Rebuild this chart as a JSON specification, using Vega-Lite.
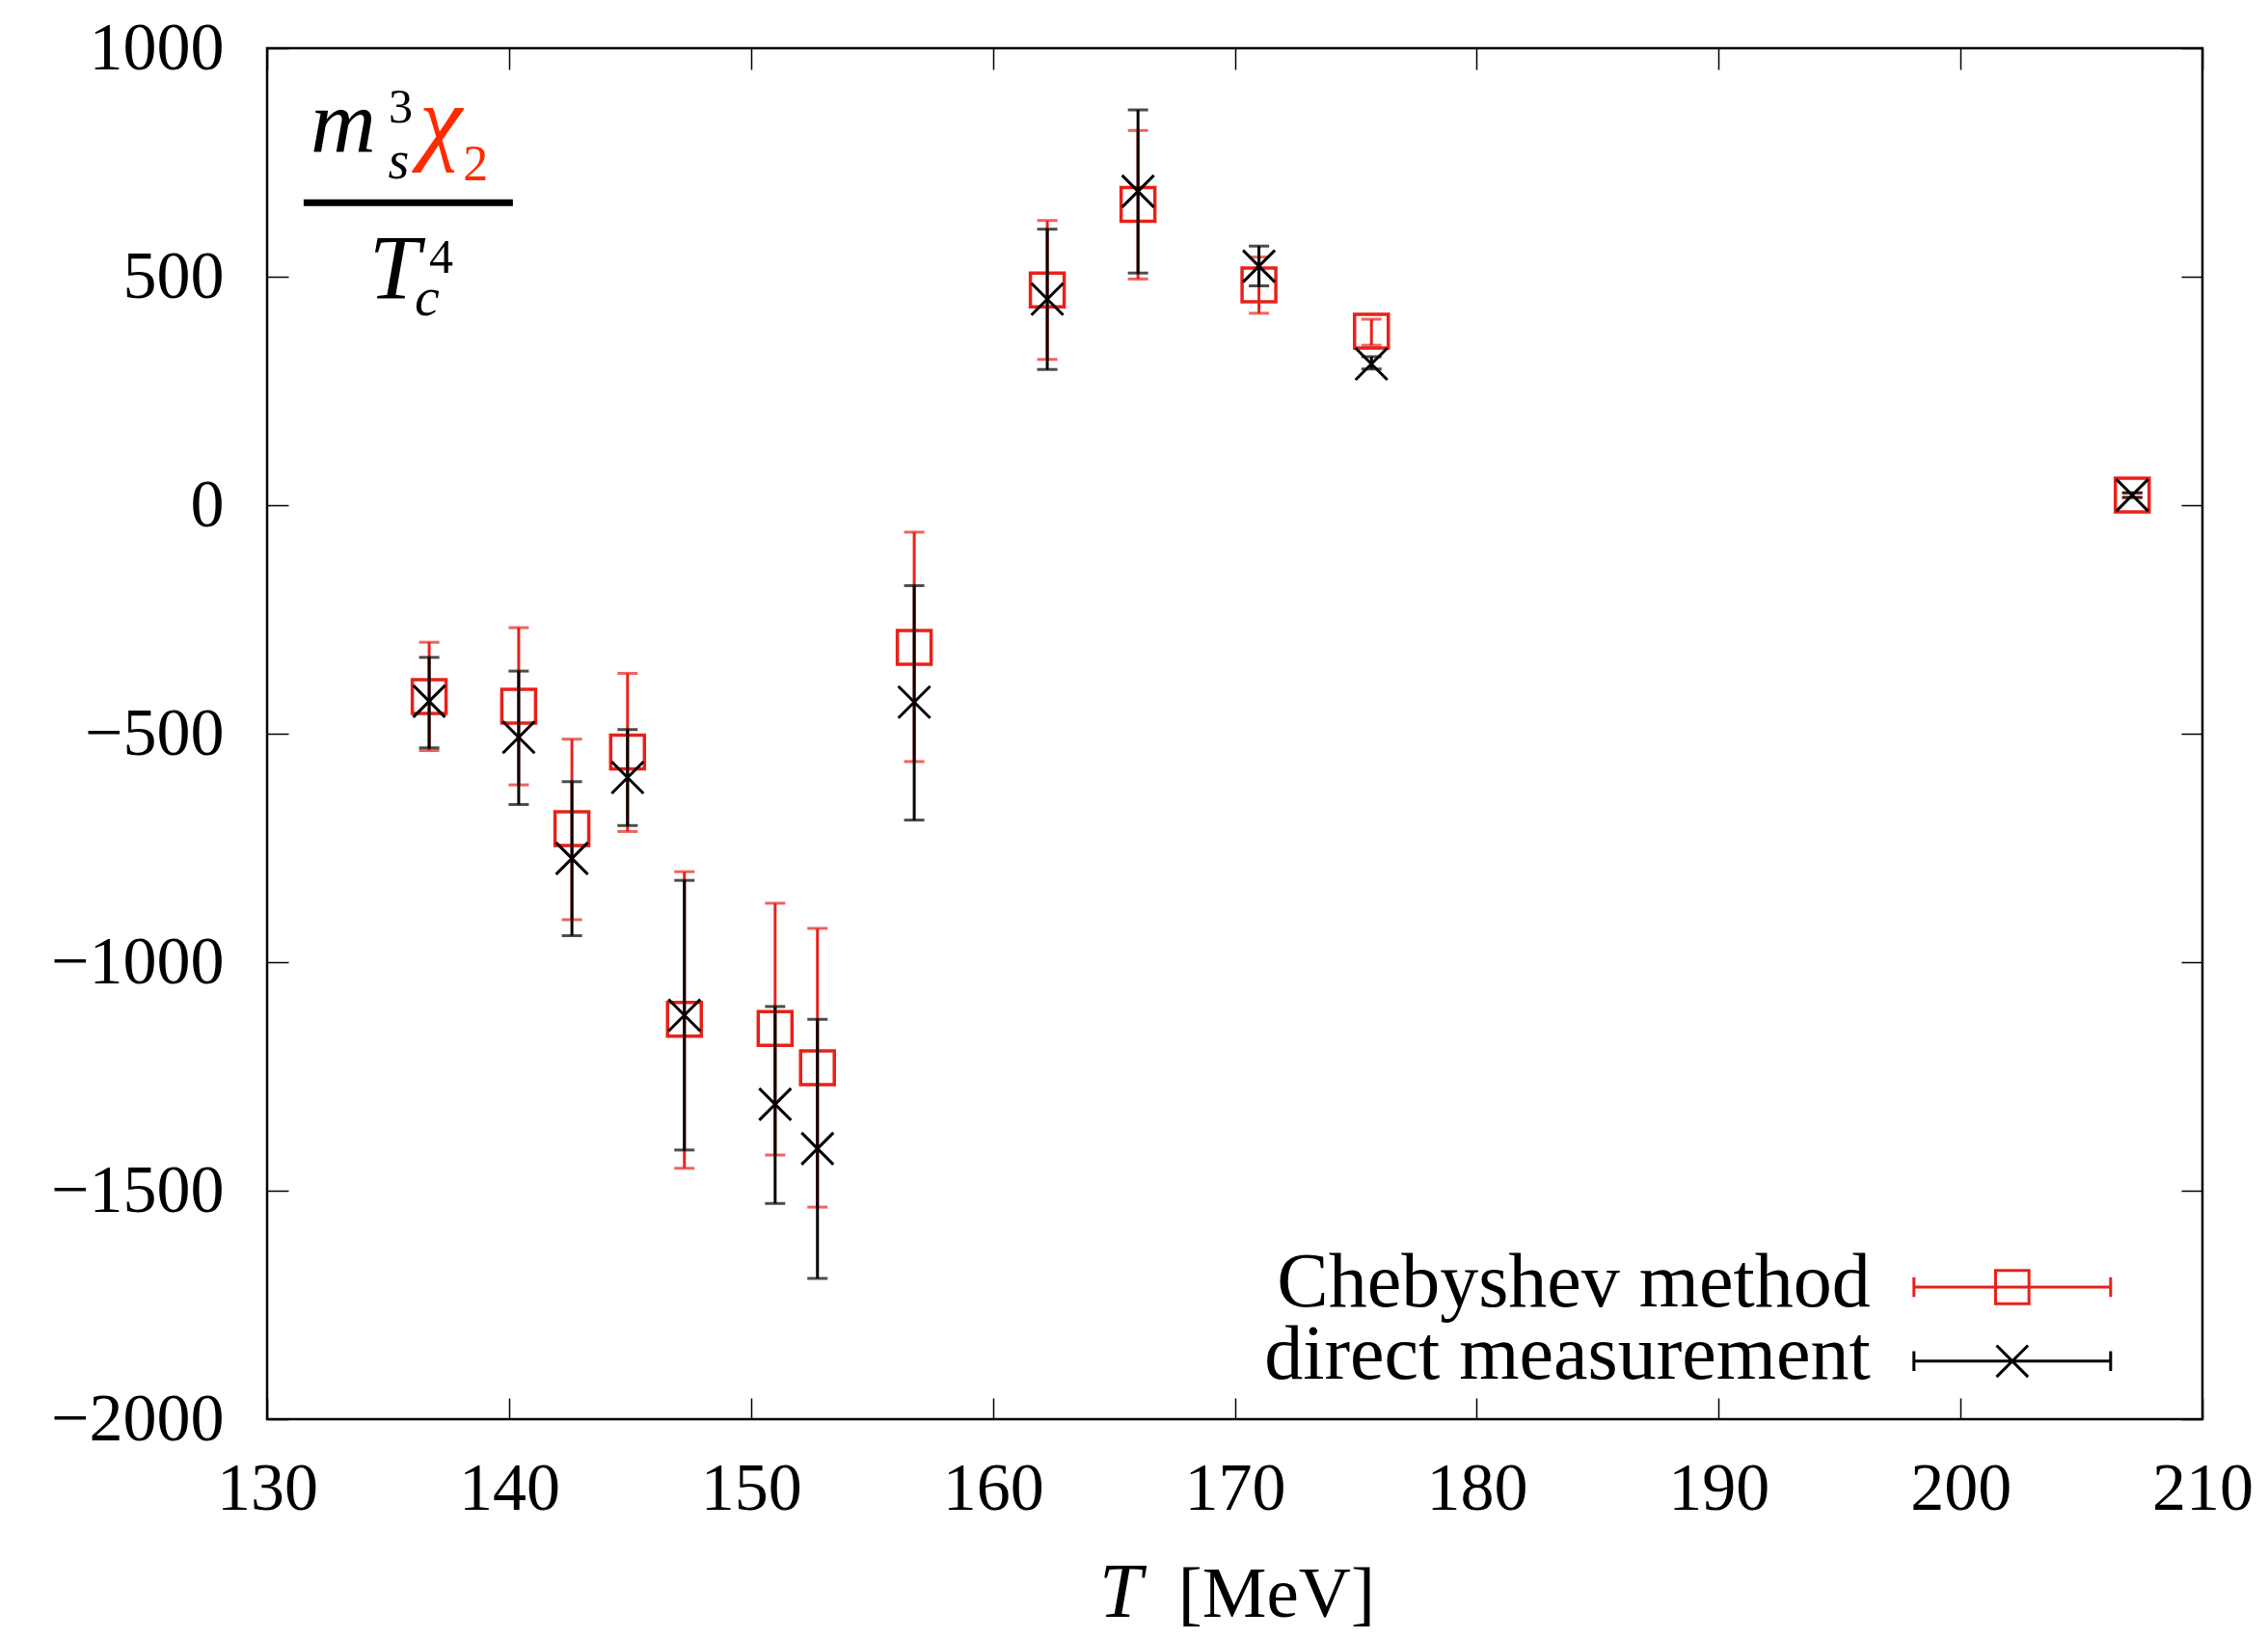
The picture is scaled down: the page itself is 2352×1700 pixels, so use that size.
{
  "$schema": "https://vega.github.io/schema/vega-lite/v6.json",
  "width": 2007,
  "height": 1422,
  "autosize": {"type": "none"},
  "padding": {"left": 277, "top": 50, "right": 68, "bottom": 228},
  "background": "white",
  "config": {
    "view": {"stroke": "black", "strokeWidth": 2.5},
    "axis": {
      "domain": false,
      "grid": false,
      "ticks": true,
      "tickSize": -22,
      "tickColor": "black",
      "tickWidth": 1.5,
      "labelFont": "Liberation Serif",
      "labelFontSize": 70,
      "labelColor": "black",
      "labelLimit": 400,
      "format": "d",
      "title": null
    }
  },
  "datasets": {
    "pts": [
      {"T": 136.7, "s": "cheb", "v": -419, "lo": -537, "hi": -300},
      {"T": 140.4, "s": "cheb", "v": -440, "lo": -612, "hi": -268},
      {"T": 142.6, "s": "cheb", "v": -708, "lo": -907, "hi": -512},
      {"T": 144.9, "s": "cheb", "v": -540, "lo": -714, "hi": -368},
      {"T": 147.25, "s": "cheb", "v": -1125, "lo": -1451, "hi": -802},
      {"T": 151.0, "s": "cheb", "v": -1145, "lo": -1422, "hi": -871},
      {"T": 152.75, "s": "cheb", "v": -1231, "lo": -1536, "hi": -926},
      {"T": 156.75, "s": "cheb", "v": -311, "lo": -561, "hi": -59},
      {"T": 162.25, "s": "cheb", "v": 471, "lo": 319, "hi": 623},
      {"T": 166.0, "s": "cheb", "v": 658, "lo": 495, "hi": 820},
      {"T": 171.0, "s": "cheb", "v": 482, "lo": 420, "hi": 543},
      {"T": 175.65, "s": "cheb", "v": 381, "lo": 350, "hi": 407},
      {"T": 207.1, "s": "cheb", "v": 22, "lo": 17, "hi": 27},
      {"T": 136.7, "s": "direct", "v": -429, "lo": -531, "hi": -333},
      {"T": 140.4, "s": "direct", "v": -508, "lo": -655, "hi": -363},
      {"T": 142.6, "s": "direct", "v": -773, "lo": -942, "hi": -605},
      {"T": 144.9, "s": "direct", "v": -596, "lo": -701, "hi": -491},
      {"T": 147.25, "s": "direct", "v": -1116, "lo": -1411, "hi": -821},
      {"T": 151.0, "s": "direct", "v": -1311, "lo": -1528, "hi": -1097},
      {"T": 152.75, "s": "direct", "v": -1408, "lo": -1692, "hi": -1125},
      {"T": 156.75, "s": "direct", "v": -431, "lo": -689, "hi": -176},
      {"T": 162.25, "s": "direct", "v": 451, "lo": 297, "hi": 604},
      {"T": 166.0, "s": "direct", "v": 687, "lo": 508, "hi": 865},
      {"T": 171.0, "s": "direct", "v": 523, "lo": 480, "hi": 567},
      {"T": 175.65, "s": "direct", "v": 309, "lo": 298, "hi": 325},
      {"T": 207.1, "s": "direct", "v": 22, "lo": 17, "hi": 27}
    ]
  },
  "layer": [
    {
      "data": {"name": "pts"},
      "transform": [{"filter": "datum.s == 'cheb'"}],
      "mark": {"type": "rule", "color": "#e8211a", "strokeWidth": 3},
      "encoding": {
        "x": {"field": "T", "type": "quantitative",
              "scale": {"domain": [130, 210], "nice": false, "zero": false},
              "axis": {"orient": "bottom", "values": [130, 140, 150, 160, 170, 180, 190, 200, 210], "labelPadding": 60, "labelFlush": false}},
        "y": {"field": "lo", "type": "quantitative",
              "scale": {"domain": [-2000, 1000], "nice": false, "zero": false},
              "axis": {"orient": "left", "values": [-2000, -1500, -1000, -500, 0, 500, 1000], "labelPadding": 67, "labelFlush": false}},
        "y2": {"field": "hi"}
      }
    },
    {
      "data": {"name": "pts"},
      "transform": [{"filter": "datum.s == 'cheb'"}],
      "mark": {"type": "tick", "orient": "horizontal", "color": "#e8211a", "size": 21, "thickness": 3},
      "encoding": {
        "x": {"field": "T", "type": "quantitative", "axis": null},
        "y": {"field": "lo", "type": "quantitative", "axis": null}
      }
    },
    {
      "data": {"name": "pts"},
      "transform": [{"filter": "datum.s == 'cheb'"}],
      "mark": {"type": "tick", "orient": "horizontal", "color": "#e8211a", "size": 21, "thickness": 3},
      "encoding": {
        "x": {"field": "T", "type": "quantitative", "axis": null},
        "y": {"field": "hi", "type": "quantitative", "axis": null}
      }
    },
    {
      "data": {"name": "pts"},
      "transform": [{"filter": "datum.s == 'cheb'"}],
      "mark": {"type": "point", "shape": "square", "filled": false, "color": "#e8211a", "strokeWidth": 3.5, "size": 1225, "opacity": 1},
      "encoding": {
        "x": {"field": "T", "type": "quantitative", "axis": null},
        "y": {"field": "v", "type": "quantitative", "axis": null}
      }
    },
    {
      "data": {"name": "pts"},
      "transform": [{"filter": "datum.s == 'direct'"}],
      "mark": {"type": "rule", "color": "black", "strokeWidth": 3},
      "encoding": {
        "x": {"field": "T", "type": "quantitative",
              "axis": {"orient": "top", "values": [130, 140, 150, 160, 170, 180, 190, 200, 210], "labels": false}},
        "y": {"field": "lo", "type": "quantitative",
              "axis": {"orient": "right", "values": [-2000, -1500, -1000, -500, 0, 500, 1000], "labels": false}},
        "y2": {"field": "hi"}
      }
    },
    {
      "data": {"name": "pts"},
      "transform": [{"filter": "datum.s == 'direct'"}],
      "mark": {"type": "tick", "orient": "horizontal", "color": "black", "size": 21, "thickness": 3},
      "encoding": {
        "x": {"field": "T", "type": "quantitative", "axis": null},
        "y": {"field": "lo", "type": "quantitative", "axis": null}
      }
    },
    {
      "data": {"name": "pts"},
      "transform": [{"filter": "datum.s == 'direct'"}],
      "mark": {"type": "tick", "orient": "horizontal", "color": "black", "size": 21, "thickness": 3},
      "encoding": {
        "x": {"field": "T", "type": "quantitative", "axis": null},
        "y": {"field": "hi", "type": "quantitative", "axis": null}
      }
    },
    {
      "data": {"name": "pts"},
      "transform": [{"filter": "datum.s == 'direct'"}],
      "mark": {"type": "point", "shape": "M-1,-1L1,1M-1,1L1,-1", "filled": false, "color": "black", "strokeWidth": 3, "size": 1089, "opacity": 1},
      "encoding": {
        "x": {"field": "T", "type": "quantitative", "axis": null},
        "y": {"field": "v", "type": "quantitative", "axis": null}
      }
    },
    {
      "data": {"values": [{"label": "Chebyshev method"}]},
      "mark": {"type": "text", "align": "right", "baseline": "alphabetic", "font": "Liberation Serif", "fontSize": 80, "color": "black"},
      "encoding": {
        "x": {"datum": 196.28, "type": "quantitative", "axis": null},
        "y": {"datum": -1753, "type": "quantitative", "axis": null},
        "text": {"field": "label"}
      }
    },
    {
      "data": {"values": [{"label": "direct measurement"}]},
      "mark": {"type": "text", "align": "right", "baseline": "alphabetic", "font": "Liberation Serif", "fontSize": 80, "color": "black"},
      "encoding": {
        "x": {"datum": 196.28, "type": "quantitative", "axis": null},
        "y": {"datum": -1911, "type": "quantitative", "axis": null},
        "text": {"field": "label"}
      }
    },
    {
      "data": {"values": [{"label": "Chebyshev method"}]},
      "mark": {"type": "point", "shape": "M-1,-0.1L-1,0.1M-1,0L1,0M1,-0.1L1,0.1M-0.17,-0.17H0.17V0.17H-0.17Z", "filled": false, "color": "#e8211a", "strokeWidth": 3, "size": 41616, "opacity": 1},
      "encoding": {
        "x": {"datum": 202.14, "type": "quantitative", "axis": null},
        "y": {"datum": -1711, "type": "quantitative", "axis": null}
      }
    },
    {
      "data": {"values": [{"label": "direct measurement"}]},
      "mark": {"type": "point", "shape": "M-1,-0.1L-1,0.1M-1,0L1,0M1,-0.1L1,0.1M-0.16,-0.16L0.16,0.16M-0.16,0.16L0.16,-0.16", "filled": false, "color": "black", "strokeWidth": 3, "size": 41616, "opacity": 1},
      "encoding": {
        "x": {"datum": 202.14, "type": "quantitative", "axis": null},
        "y": {"datum": -1873, "type": "quantitative", "axis": null}
      }
    },
    {
      "data": {"values": [{"label": "T"}]},
      "mark": {"type": "text", "align": "left", "baseline": "alphabetic", "font": "Liberation Serif", "fontStyle": "italic", "fontSize": 80, "color": "black"},
      "encoding": {
        "x": {"datum": 164.4, "type": "quantitative", "axis": null},
        "y": {"datum": -2432, "type": "quantitative", "axis": null},
        "text": {"field": "label"}
      }
    },
    {
      "data": {"values": [{"label": "[MeV]"}]},
      "mark": {"type": "text", "align": "left", "baseline": "alphabetic", "font": "Liberation Serif", "fontSize": 75, "color": "black"},
      "encoding": {
        "x": {"datum": 167.66, "type": "quantitative", "axis": null},
        "y": {"datum": -2432, "type": "quantitative", "axis": null},
        "text": {"field": "label"}
      }
    },
    {
      "data": {"values": [{"label": "m"}]},
      "mark": {"type": "text", "align": "left", "baseline": "alphabetic", "font": "Liberation Serif", "fontStyle": "italic", "fontSize": 94, "color": "black"},
      "encoding": {
        "x": {"datum": 131.79, "type": "quantitative", "axis": null},
        "y": {"datum": 772, "type": "quantitative", "axis": null},
        "text": {"field": "label"}
      }
    },
    {
      "data": {"values": [{"label": "3"}]},
      "mark": {"type": "text", "align": "left", "baseline": "alphabetic", "font": "Liberation Serif", "fontSize": 50, "color": "black"},
      "encoding": {
        "x": {"datum": 135.02, "type": "quantitative", "axis": null},
        "y": {"datum": 838, "type": "quantitative", "axis": null},
        "text": {"field": "label"}
      }
    },
    {
      "data": {"values": [{"label": "s"}]},
      "mark": {"type": "text", "align": "left", "baseline": "alphabetic", "font": "Liberation Serif", "fontStyle": "italic", "fontSize": 56, "color": "black"},
      "encoding": {
        "x": {"datum": 135.0, "type": "quantitative", "axis": null},
        "y": {"datum": 715, "type": "quantitative", "axis": null},
        "text": {"field": "label"}
      }
    },
    {
      "data": {"values": [{"label": "χ"}]},
      "mark": {"type": "text", "align": "left", "baseline": "alphabetic", "font": "Liberation Serif", "fontStyle": "italic", "fontSize": 100, "color": "#ff2a00"},
      "encoding": {
        "x": {"datum": 136.3, "type": "quantitative", "axis": null},
        "y": {"datum": 772, "type": "quantitative", "axis": null},
        "text": {"field": "label"}
      }
    },
    {
      "data": {"values": [{"label": "2"}]},
      "mark": {"type": "text", "align": "left", "baseline": "alphabetic", "font": "Liberation Serif", "fontSize": 52, "color": "#ff2a00"},
      "encoding": {
        "x": {"datum": 138.1, "type": "quantitative", "axis": null},
        "y": {"datum": 711, "type": "quantitative", "axis": null},
        "text": {"field": "label"}
      }
    },
    {
      "data": {"values": [{"label": "bar"}]},
      "mark": {"type": "rule", "color": "black", "strokeWidth": 7},
      "encoding": {
        "x": {"datum": 131.51, "type": "quantitative", "axis": null},
        "x2": {"datum": 140.16},
        "y": {"datum": 662, "type": "quantitative", "axis": null}
      }
    },
    {
      "data": {"values": [{"label": "T"}]},
      "mark": {"type": "text", "align": "left", "baseline": "alphabetic", "font": "Liberation Serif", "fontStyle": "italic", "fontSize": 95, "color": "black"},
      "encoding": {
        "x": {"datum": 134.22, "type": "quantitative", "axis": null},
        "y": {"datum": 451, "type": "quantitative", "axis": null},
        "text": {"field": "label"}
      }
    },
    {
      "data": {"values": [{"label": "4"}]},
      "mark": {"type": "text", "align": "left", "baseline": "alphabetic", "font": "Liberation Serif", "fontSize": 50, "color": "black"},
      "encoding": {
        "x": {"datum": 136.7, "type": "quantitative", "axis": null},
        "y": {"datum": 508, "type": "quantitative", "axis": null},
        "text": {"field": "label"}
      }
    },
    {
      "data": {"values": [{"label": "c"}]},
      "mark": {"type": "text", "align": "left", "baseline": "alphabetic", "font": "Liberation Serif", "fontStyle": "italic", "fontSize": 58, "color": "black"},
      "encoding": {
        "x": {"datum": 136.1, "type": "quantitative", "axis": null},
        "y": {"datum": 415.6, "type": "quantitative", "axis": null},
        "text": {"field": "label"}
      }
    }
  ],
  "resolve": {"axis": {"x": "independent", "y": "independent"}}
}
